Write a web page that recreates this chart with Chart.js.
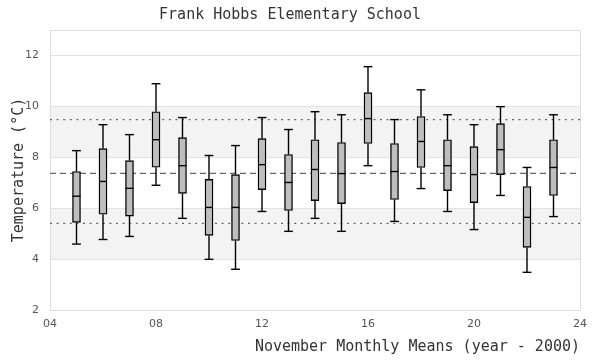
<!DOCTYPE html>
<html>
<head>
<meta charset="utf-8">
<script src="https://cdn.jsdelivr.net/npm/chart.js@4/dist/chart.umd.min.js"></script>
<style>
html,body{margin:0;padding:0;background:#fff;}
#wrap{width:600px;height:360px;}
</style>
</head>
<body>
<div id="wrap"><canvas id="c" width="600" height="360"></canvas></div>
<script>
const years       = [5, 6, 7, 8, 9, 10, 11, 12, 13, 14, 15, 16, 17, 18, 19, 20, 21, 22, 23];
const whiskerLow  = [4.59, 4.77, 4.89, 6.90, 5.60, 3.99, 3.60, 5.87, 5.09, 5.60, 5.09, 7.67, 5.48, 6.77, 5.87, 5.16, 6.50, 3.48, 5.67];
const q1          = [5.44, 5.76, 5.69, 7.61, 6.58, 4.93, 4.73, 6.73, 5.91, 6.30, 6.18, 8.54, 6.34, 7.60, 6.69, 6.22, 7.32, 4.46, 6.50];
const medians     = [6.47, 7.05, 6.78, 8.69, 7.67, 6.03, 6.03, 7.71, 7.01, 7.52, 7.36, 9.52, 7.44, 8.62, 7.67, 7.32, 8.30, 5.64, 7.60];
const q3          = [7.44, 8.34, 7.87, 9.79, 8.77, 7.13, 7.32, 8.73, 8.11, 8.69, 8.58, 10.54, 8.54, 9.60, 8.69, 8.42, 9.32, 6.85, 8.69];
const whiskerHigh = [8.26, 9.28, 8.89, 10.89, 9.56, 8.07, 8.46, 9.56, 9.09, 9.79, 9.67, 11.56, 9.48, 10.65, 9.67, 9.28, 9.99, 7.60, 9.67];
const meanLine    = 7.37;
const upperLine   = 9.48;
const lowerLine   = 5.40;
const bands       = [[4, 6], [8, 10]];
const xTicks      = [4, 8, 12, 16, 20, 24];
const yTicks      = [2, 4, 6, 8, 10, 12];
const titleText   = 'Frank Hobbs Elementary School';
const xTitle      = 'November Monthly Means (year - 2000)';
const yTitle      = 'Temperature (°C)';

const xMin = 4, xMax = 24, yMin = 2, yMax = 13;

const whiskerData = [];
years.forEach((x, i) => {
  whiskerData.push({x, y: whiskerLow[i]}, {x, y: q1[i]}, {x, y: null});
  whiskerData.push({x, y: q3[i]}, {x, y: whiskerHigh[i]}, {x, y: null});
});
const capData = [];
years.forEach((x, i) => { capData.push({x, y: whiskerLow[i]}, {x, y: whiskerHigh[i]}); });
const medianData = years.map((x, i) => ({x, y: medians[i]}));
const boxData = years.map((x, i) => ({x, y: [q1[i], q3[i]]}));

const bgPlugin = {
  id: 'bg',
  beforeDraw(chart) {
    const {ctx, chartArea: a, scales: {y}} = chart;
    ctx.save();
    ctx.fillStyle = '#ffffff';
    ctx.fillRect(0, 0, chart.width, chart.height);
    ctx.fillStyle = '#f3f3f3';
    bands.forEach(([lo, hi]) => {
      const top = y.getPixelForValue(hi), bot = y.getPixelForValue(lo);
      ctx.fillRect(a.left, top, a.right - a.left, bot - top);
    });
    ctx.restore();
  },
  beforeDatasetsDraw(chart) {
    const {ctx, chartArea: a} = chart;
    ctx.save();
    ctx.strokeStyle = '#dddddd';
    ctx.lineWidth = 1;
    ctx.strokeRect(Math.round(a.left) + 0.5, Math.round(a.top) + 0.5, Math.round(a.right - a.left), Math.round(a.bottom - a.top));
    ctx.restore();
  }
};

new Chart(document.getElementById('c'), {
  data: {
    datasets: [
      { type: 'scatter', data: medianData, pointStyle: 'line', pointRadius: 4, pointHoverRadius: 4,
        borderColor: '#000', borderWidth: 1.4, order: 0 },
      { type: 'scatter', data: capData, pointStyle: 'line', pointRadius: 4.4, pointHoverRadius: 4.4,
        borderColor: '#000', borderWidth: 1.4, order: 0 },
      { type: 'bar', data: boxData, backgroundColor: '#bebebe', borderColor: '#000', borderWidth: 1.4,
        borderSkipped: false, barThickness: 8, grouped: false, order: 1 },
      { type: 'line', data: whiskerData, borderColor: '#000', borderWidth: 1.4, pointRadius: 0,
        spanGaps: false, order: 2 },
      { type: 'line', data: [{x: xMin, y: meanLine}, {x: xMax, y: meanLine}], borderColor: '#666',
        borderWidth: 1.2, borderDash: [6, 4], pointRadius: 0, order: 3 },
      { type: 'line', data: [{x: xMin, y: upperLine}, {x: xMax, y: upperLine}], borderColor: '#666',
        borderWidth: 1.2, borderDash: [2, 4.6], pointRadius: 0, order: 3 },
      { type: 'line', data: [{x: xMin, y: lowerLine}, {x: xMax, y: lowerLine}], borderColor: '#666',
        borderWidth: 1.2, borderDash: [2, 4.6], pointRadius: 0, order: 3 }
    ]
  },
  options: {
    responsive: false,
    animation: false,
    events: [],
    layout: { padding: { left: 0, right: 20, top: 0, bottom: 0 } },
    plugins: {
      legend: { display: false },
      tooltip: { enabled: false },
      title: {
        display: true, text: titleText, color: '#333',
        font: { family: 'DejaVu Sans Mono', size: 15, weight: 'normal' },
        padding: { top: 6, bottom: 6 }
      }
    },
    scales: {
      x: {
        type: 'linear', min: xMin, max: xMax, offset: false,
        afterBuildTicks(s) { s.ticks = xTicks.map(v => ({value: v})); },
        afterFit(s) { s.height = 50; },
        grid: { display: false, drawTicks: false },
        border: { display: true, color: '#dddddd', width: 1 },
        ticks: { padding: 8, color: '#555', font: { family: 'DejaVu Sans', size: 11 },
          callback: v => String(v).padStart(2, '0') },
        title: { display: true, text: xTitle, align: 'end', color: '#333',
          font: { family: 'DejaVu Sans Mono', size: 15, weight: 'normal' },
          padding: { top: 0, bottom: 4 } }
      },
      y: {
        type: 'linear', min: yMin, max: yMax,
        afterBuildTicks(s) { s.ticks = yTicks.map(v => ({value: v})); },
        afterFit(s) { s.width = 50; },
        grid: { color: '#e2e2e2', drawTicks: false, lineWidth: 1 },
        border: { display: true, color: '#dddddd', width: 1 },
        ticks: { padding: 11, color: '#555', font: { family: 'DejaVu Sans', size: 11 } },
        title: { display: true, text: yTitle, color: '#333',
          font: { family: 'DejaVu Sans Mono', size: 15, weight: 'normal' },
          padding: { top: 10, bottom: 0 } }
      }
    }
  },
  plugins: [bgPlugin]
});
</script>
</body>
</html>
